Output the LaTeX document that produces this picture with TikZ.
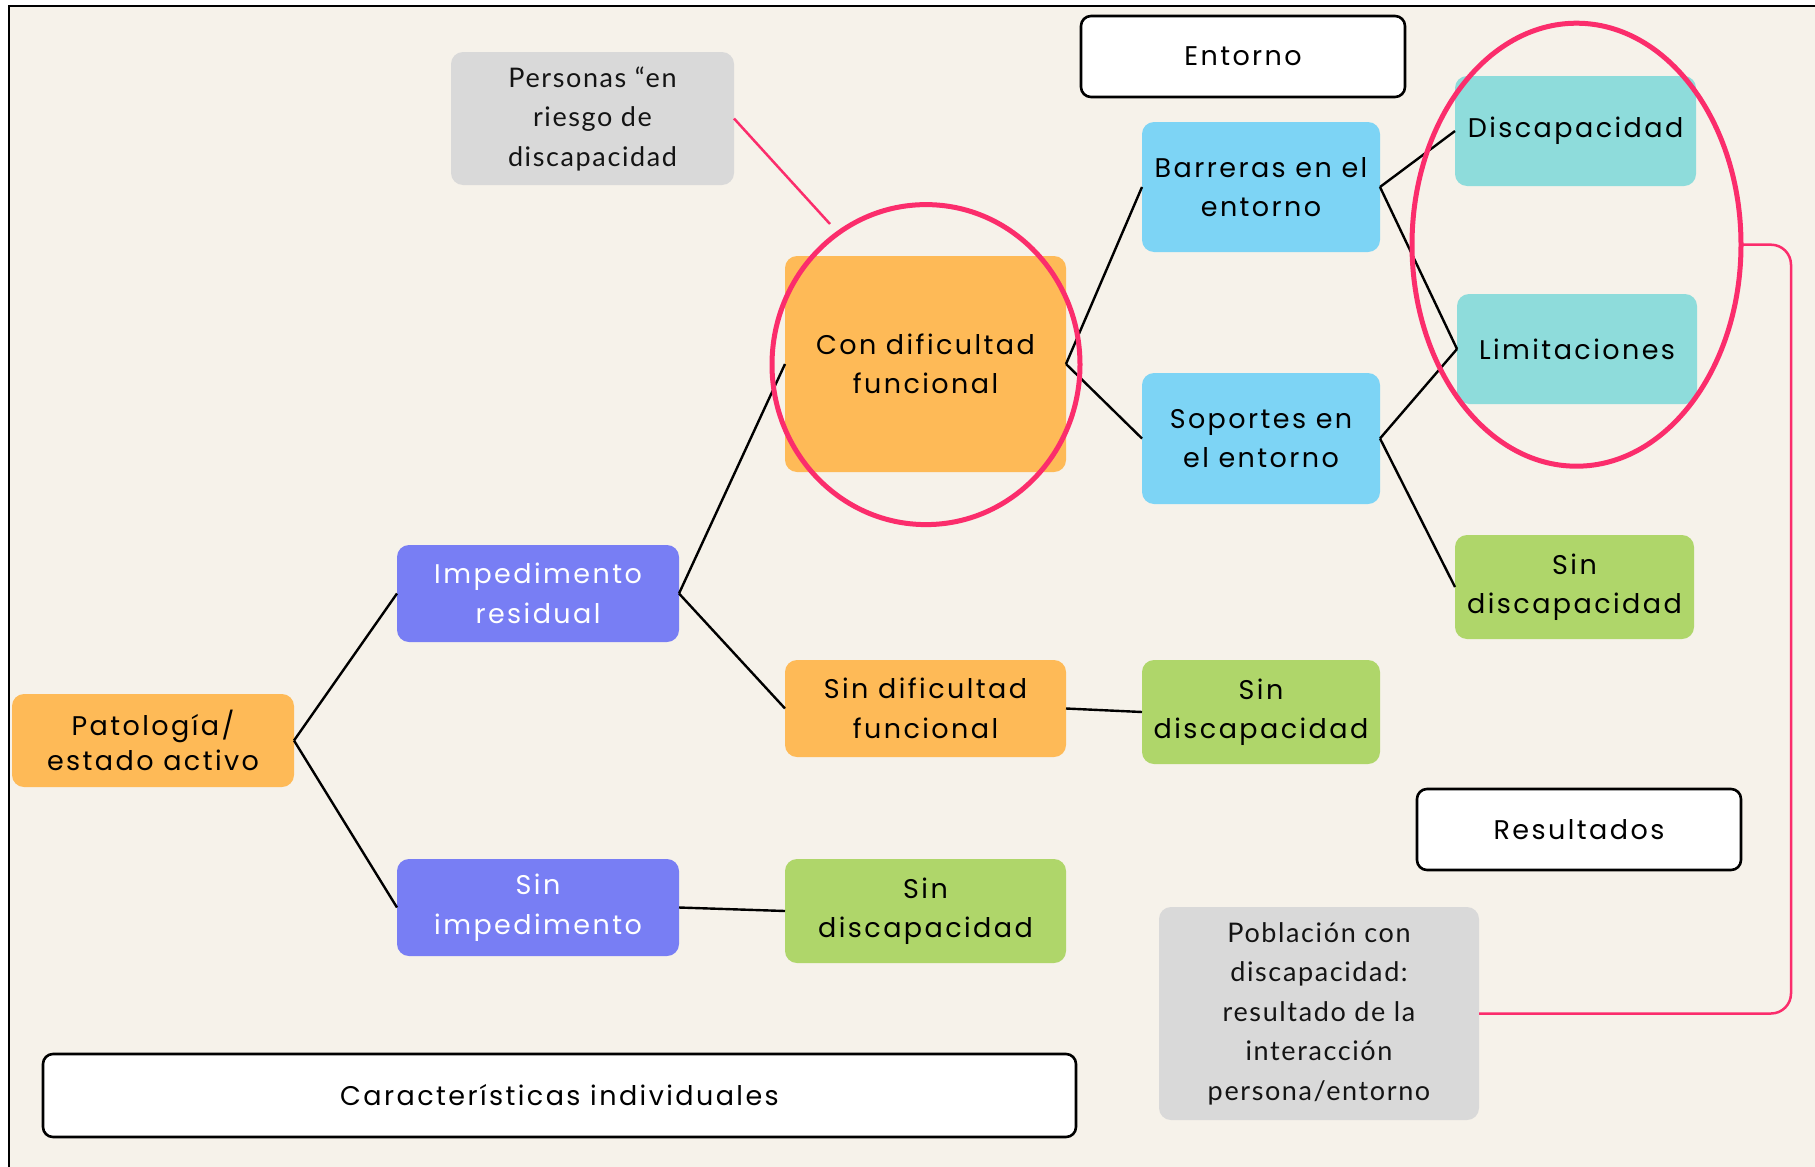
\documentclass[tikz,border=0pt]{standalone}
\usepackage{fontspec}
\setmainfont{Poppins}[LetterSpace=9]
\newfontfamily\grayf{Lato}[LetterSpace=6]
\usetikzlibrary{shapes.geometric}
\definecolor{cream}{HTML}{F6F2EA}
\definecolor{orangeC}{HTML}{FEBA57}
\definecolor{purpleC}{HTML}{787EF4}
\definecolor{blueC}{HTML}{7DD4F5}
\definecolor{tealC}{HTML}{8EDCDB}
\definecolor{greenC}{HTML}{AFD66A}
\definecolor{grayC}{HTML}{D9D9D9}
\definecolor{pinkC}{HTML}{FB2D6C}
\begin{document}
\begin{tikzpicture}[x=1pt,y=-1pt,
  every node/.style={inner sep=0pt, outer sep=0pt},
  cbox/.style={rounded corners=12pt, align=center, font=\fontsize{27}{39.5}\selectfont, text=black},
  gbox/.style={rounded corners=12pt, align=center, fill=grayC, font=\grayf\fontsize{27}{39.5}\selectfont, text=black!92},
  wbox/.style={rounded corners=10pt, align=center, fill=white, draw=black, line width=2.6pt, font=\fontsize{27}{39.5}\selectfont},
  conn/.style={draw=black, line width=2.4pt},
  ring/.style={draw=pinkC, line width=5pt, ellipse},
  pinkline/.style={draw=pinkC, line width=2.5pt}
]
\useasboundingbox (0,0) rectangle (1815,1167);
\fill[white] (0,0) rectangle (1815,1167);
\fill[cream] (9,6) rectangle (1815,1167);
\draw[black, line width=1.6pt] (9,1167) -- (9,6) -- (1815,6);

% individual characteristics
\node[cbox, fill=orangeC, minimum width=282, minimum height=93, font=\fontsize{27}{35}\selectfont] (pat) at (153,740.5) {Patología/\\estado activo};
\node[cbox, fill=purpleC, text=white, minimum width=282, minimum height=97] (imp) at (538,593.5) {Impedimento\\residual};
\node[cbox, fill=purpleC, text=white, minimum width=282, minimum height=97] (simp) at (538,907.5) {Sin\\impedimento};
\node[cbox, fill=orangeC, minimum width=281, minimum height=216] (cdf) at (925.5,364) {Con dificultad\\funcional};
\node[cbox, fill=orangeC, minimum width=281, minimum height=97] (sdf) at (925.5,708.5) {Sin dificultad\\funcional};
\node[cbox, fill=greenC, minimum width=281, minimum height=104] (sd1) at (925.5,911) {Sin\\discapacidad};

% environment
\node[cbox, fill=blueC, minimum width=238, minimum height=130] (bar) at (1261,187) {Barreras en el\\entorno};
\node[cbox, fill=blueC, minimum width=238, minimum height=131] (sop) at (1261,438.5) {Soportes en\\el entorno};
\node[cbox, fill=greenC, minimum width=238, minimum height=104] (sd2) at (1261,712) {Sin\\discapacidad};

% results
\node[cbox, fill=tealC, minimum width=241, minimum height=110] (dis) at (1575.5,131) {Discapacidad};
\node[cbox, fill=tealC, minimum width=240, minimum height=110] (lim) at (1577,349) {Limitaciones};
\node[cbox, fill=greenC, minimum width=239, minimum height=104] (sd3) at (1574.5,587) {Sin\\discapacidad};

% labels
\node[wbox, minimum width=324, minimum height=81] (ent) at (1243,56.5) {Entorno};
\node[wbox, minimum width=324, minimum height=81] (res) at (1579,829.5) {Resultados};
\node[wbox, minimum width=1033, minimum height=83] (car) at (559.5,1095.5) {Características individuales};
\node[gbox, minimum width=283, minimum height=133] (per) at (592.5,118.5) {Personas “en\\riesgo de\\discapacidad};
\node[gbox, minimum width=320, minimum height=213] (pob) at (1319,1013.5) {Población con\\discapacidad:\\resultado de la\\interacción\\persona/entorno};

% connectors
\draw[conn] (pat.east) -- (imp.west);
\draw[conn] (pat.east) -- (simp.west);
\draw[conn] (imp.east) -- (cdf.west);
\draw[conn] (imp.east) -- (sdf.west);
\draw[conn] (simp.east) -- (sd1.west);
\draw[conn] (cdf.east) -- (bar.west);
\draw[conn] (cdf.east) -- (sop.west);
\draw[conn] (sdf.east) -- (sd2.west);
\draw[conn] (bar.east) -- (dis.west);
\draw[conn] (bar.east) -- (lim.west);
\draw[conn] (sop.east) -- (lim.west);
\draw[conn] (sop.east) -- (sd3.west);

% highlight rings
\node[ring, minimum width=308, minimum height=320] (E1) at (926,364.6) {};
\node[ring, minimum width=329, minimum height=443] (E2) at (1576.5,244.7) {};

\coordinate (pe) at (830,224);
\coordinate (rc) at (1791,600);
\draw[pinkline] (per.east) -- (pe);
\draw[pinkline, rounded corners=20pt] (E2.east) -- (E2.east -| rc) -- (pob.east -| rc) -- (pob.east);
\end{tikzpicture}
\end{document}
